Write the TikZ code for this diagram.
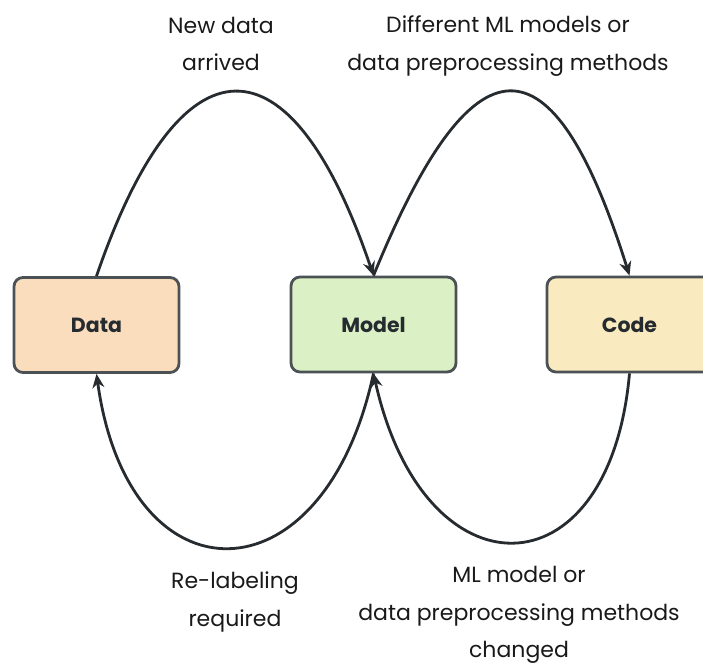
\documentclass[tikz,border=0pt]{standalone}
\usepackage{fontspec}
\setmainfont{Poppins}
\usetikzlibrary{arrows.meta}
\definecolor{datafill}{HTML}{F9DDBD}
\definecolor{modelfill}{HTML}{DBF1C5}
\definecolor{codefill}{HTML}{FAEABF}
\definecolor{edge}{HTML}{4B5155}
\definecolor{ink}{HTML}{262B30}
\begin{document}
\begin{tikzpicture}[x=1pt,y=-1pt,
  box/.style={draw=edge, line width=2.8pt, rounded corners=9pt, minimum width=165pt, minimum height=95pt, inner sep=0pt, font=\fontsize{20.5}{24}\selectfont\bfseries, text=ink},
  lbl/.style={align=center, font=\fontsize{22}{37.5}\selectfont, text=black!90, inner sep=0pt},
  flow/.style={draw=ink, line width=2.8pt, -{Stealth[length=14pt,width=12pt]}}]
\useasboundingbox (0,0) rectangle (703,666);
\clip (0,0) rectangle (703,666);
\node[box, fill=datafill] (data) at (96.5,325) {Data};
\node[box, fill=modelfill] (model) at (373.5,324.5) {Model};
\node[box, fill=codefill] (code) at (629.5,324.5) {Code};

\node[lbl] (l1) at (221,44) {New data\\arrived};
\node[lbl] (l2) at (508,46) {Different ML models or\\data preprocessing methods};
\node[lbl] (l3) at (235,602) {Re-labeling\\required};
\node[lbl] (l4) at (519,615) {ML model or\\data preprocessing methods\\changed};

\draw[flow] (data.north) .. controls +(84,-245) and +(-83,-245) .. (model.north);
\draw[flow] (model.north) .. controls +(100,-245) and +(-77,-245) .. (code.north);
\draw[flow] (model.south) .. controls +(-50,232) and +(32,232) .. (data.south);
\draw[flow] (code.south) .. controls +(-20,225) and +(50,225) .. (model.south);
\end{tikzpicture}
\end{document}
